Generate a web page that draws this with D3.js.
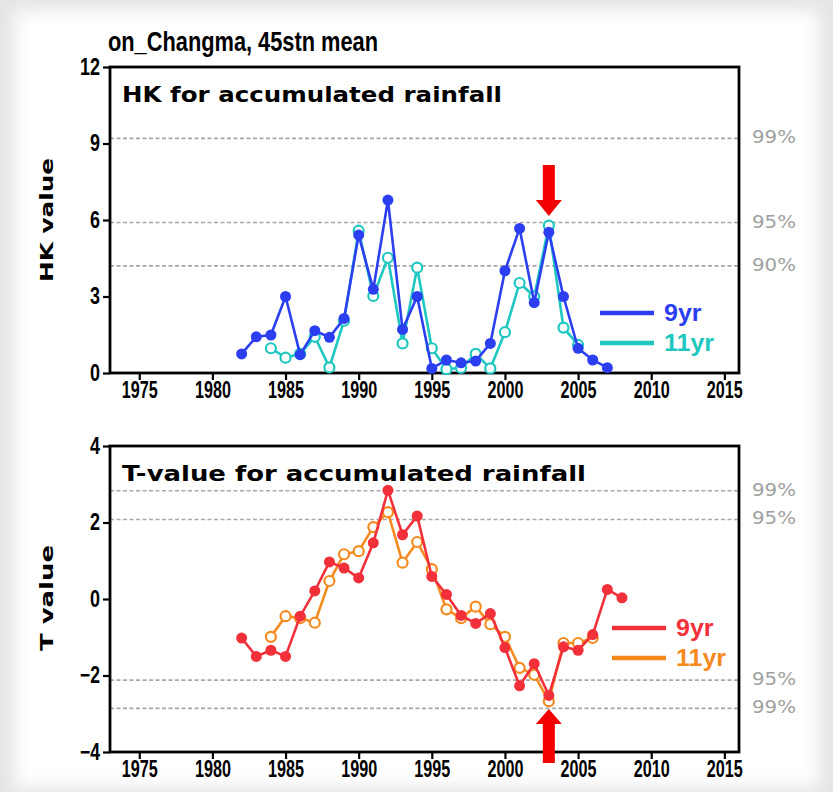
<!DOCTYPE html>
<html>
<head>
<meta charset="utf-8">
<script src="https://cdn.jsdelivr.net/npm/d3@7"></script>
<style>
  body { margin: 0; background: #fff; }
  svg { display: block; }
</style>
</head>
<body>
<script>
// HK statistic, 9yr and 11yr windows
const hkYears9 = [1982,1983,1984,1985,1986,1987,1988,1989,1990,1991,1992,1993,1994,1995,1996,1997,1998,1999,2000,2001,2002,2003,2004,2005,2006,2007];
const hk9 = [0.75,1.42,1.49,3.0,0.72,1.66,1.40,2.14,5.41,3.28,6.78,1.71,3.0,0.18,0.51,0.40,0.47,1.16,4.01,5.67,2.76,5.52,3.0,0.97,0.51,0.21];
const hkYears11 = [1984,1985,1986,1987,1988,1989,1990,1991,1992,1993,1994,1995,1996,1997,1998,1999,2000,2001,2002,2003,2004,2005];
const hk11 = [0.97,0.60,0.75,1.42,0.22,2.05,5.58,3.02,4.52,1.16,4.13,0.97,0.15,0.20,0.75,0.18,1.6,3.53,3.0,5.78,1.78,1.1];

// T-values, 9yr and 11yr windows
const tYears9 = [1982,1983,1984,1985,1986,1987,1988,1989,1990,1991,1992,1993,1994,1995,1996,1997,1998,1999,2000,2001,2002,2003,2004,2005,2006,2007,2008];
const t9 = [-1.02,-1.50,-1.34,-1.50,-0.45,0.21,0.97,0.81,0.55,1.47,2.84,1.68,2.17,0.59,0.12,-0.43,-0.64,-0.38,-1.27,-2.27,-1.69,-2.52,-1.25,-1.34,-0.93,0.25,0.03];
const tYears11 = [1984,1985,1986,1987,1988,1989,1990,1991,1992,1993,1994,1995,1996,1997,1998,1999,2000,2001,2002,2003,2004,2005,2006];
const t11 = [-0.99,-0.45,-0.50,-0.62,0.47,1.17,1.25,1.88,2.27,0.95,1.49,0.78,-0.27,-0.50,-0.20,-0.66,-0.99,-1.80,-1.98,-2.67,-1.15,-1.15,-1.02];

const xTicks = [1975,1980,1985,1990,1995,2000,2005,2010,2015];
const hkTicks = [0,3,6,9,12];
const tTicks = [-4,-2,0,2,4];

// significance levels
const hkLevels = [{v: 9.2, label: "99%"}, {v: 5.9, label: "95%"}, {v: 4.2, label: "90%"}];
const tLevels = [{v: 2.83, label: "99%"}, {v: 2.08, label: "95%"}, {v: -2.12, label: "95%"}, {v: -2.86, label: "99%"}];

const changeYear = 2003;

const width = 833, height = 792;
const svg = d3.select("body").append("svg")
  .attr("width", width)
  .attr("height", height);

// soft grey edge like the original screenshot
const defs = svg.append("defs");
defs.append("filter").attr("id", "blur")
  .attr("x", "-10%").attr("y", "-10%").attr("width", "120%").attr("height", "120%")
  .append("feGaussianBlur").attr("stdDeviation", 9);
svg.append("rect").attr("width", width).attr("height", height).attr("fill", "#e4e4e4");
svg.append("rect").attr("x", 14).attr("y", 10).attr("width", width - 28).attr("height", height - 14)
  .attr("fill", "#fff").attr("filter", "url(#blur)");

const tickFont = "'Liberation Sans', Arial, sans-serif";
const textFont = "'DejaVu Sans', 'Liberation Sans', sans-serif";

const x = d3.scaleLinear().domain([1973, 2016]).range([110, 739]);

svg.append("text")
  .attr("x", 108).attr("y", 51)
  .attr("font-family", tickFont).attr("font-weight", "bold").attr("font-size", 28)
  .attr("textLength", 270).attr("lengthAdjust", "spacingAndGlyphs")
  .text("on_Changma, 45stn mean");

// squeeze bold digits into a narrow look
function narrow(sel, size, perChar) {
  sel.attr("font-family", tickFont).attr("font-weight", "bold").attr("font-size", size)
    .attr("fill", "#000")
    .attr("textLength", function () { return this.textContent.length * perChar; })
    .attr("lengthAdjust", "spacingAndGlyphs");
}

function drawPanel(opt) {
  const y = d3.scaleLinear().domain(opt.domain).range([opt.bottom, opt.top]);
  const g = svg.append("g");

  // dashed significance lines
  g.selectAll("line.lev")
    .data(opt.levels)
    .join("line")
    .attr("x1", x.range()[0]).attr("x2", x.range()[1])
    .attr("y1", d => y(d.v)).attr("y2", d => y(d.v))
    .attr("stroke", "#a8a8a8").attr("stroke-width", 1.6)
    .attr("stroke-dasharray", "4,2.5");

  g.selectAll("text.lev")
    .data(opt.levels)
    .join("text")
    .attr("x", 752).attr("y", d => y(d.v) + 5)
    .attr("fill", "#a0a0a0")
    .attr("font-family", textFont).attr("font-size", 17)
    .attr("textLength", 44).attr("lengthAdjust", "spacingAndGlyphs")
    .text(d => d.label);

  // x axis
  const xAxis = g.append("g")
    .attr("transform", `translate(0,${opt.bottom})`)
    .call(d3.axisBottom(x).tickValues(xTicks).tickFormat(d3.format("d")).tickSize(7).tickPadding(2));
  xAxis.select(".domain").remove();
  xAxis.selectAll(".tick line").attr("stroke", "#000").attr("stroke-width", 2.2);
  narrow(xAxis.selectAll(".tick text"), 23, 9);

  // y axis
  const yAxis = g.append("g")
    .attr("transform", `translate(${x.range()[0]},0)`)
    .call(d3.axisLeft(y).tickValues(opt.ticks).tickSize(7).tickPadding(3));
  yAxis.select(".domain").remove();
  yAxis.selectAll(".tick line").attr("stroke", "#000").attr("stroke-width", 2.2);
  narrow(yAxis.selectAll(".tick text"), 23, 10);

  // frame
  g.append("rect")
    .attr("x", x.range()[0]).attr("y", opt.top)
    .attr("width", x.range()[1] - x.range()[0]).attr("height", opt.bottom - opt.top)
    .attr("fill", "none").attr("stroke", "#000").attr("stroke-width", 2.8);

  // y title
  g.append("text")
    .attr("transform", `translate(53,${opt.ylabelY}) rotate(-90)`)
    .attr("text-anchor", "middle")
    .attr("font-family", textFont).attr("font-weight", "bold").attr("font-size", 18)
    .attr("textLength", opt.ylabelLen).attr("lengthAdjust", "spacingAndGlyphs")
    .text(opt.ylabel);

  // panel title
  g.append("text")
    .attr("x", 122).attr("y", opt.top + 35)
    .attr("font-family", textFont).attr("font-weight", "bold").attr("font-size", 21)
    .attr("textLength", opt.titleLen).attr("lengthAdjust", "spacingAndGlyphs")
    .text(opt.title);

  const line = d3.line().x(d => x(d[0])).y(d => y(d[1]));

  opt.series.forEach(s => {
    const pts = s.years.map((yr, i) => [yr, s.values[i]]);
    g.append("path")
      .datum(pts)
      .attr("d", line)
      .attr("fill", "none").attr("stroke", s.color).attr("stroke-width", 2.6);
    g.append("g")
      .selectAll("circle")
      .data(pts)
      .join("circle")
      .attr("cx", d => x(d[0])).attr("cy", d => y(d[1]))
      .attr("r", s.filled ? 5.5 : 5)
      .attr("fill", s.filled ? s.color : "#fff")
      .attr("stroke", s.color).attr("stroke-width", s.filled ? 0 : 2.2);
  });

  // legend
  opt.series.slice().reverse().forEach((s, i) => {
    const ly = opt.legendY + i * 30;
    g.append("line")
      .attr("x1", opt.legendX).attr("x2", opt.legendX + 54)
      .attr("y1", ly).attr("y2", ly)
      .attr("stroke", s.color).attr("stroke-width", 4.5);
    g.append("text")
      .attr("x", opt.legendX + 64).attr("y", ly + 8)
      .attr("fill", s.color)
      .attr("font-family", tickFont).attr("font-weight", "bold").attr("font-size", 23)
      .attr("textLength", s.name.length * 12.5).attr("lengthAdjust", "spacingAndGlyphs")
      .text(s.name);
  });

  return y;
}

const yHK = drawPanel({
  top: 67, bottom: 373, domain: [0, 12], ticks: hkTicks, levels: hkLevels,
  ylabel: "HK value", ylabelY: 220, ylabelLen: 124,
  title: "HK for accumulated rainfall", titleLen: 380,
  legendX: 600, legendY: 313,
  series: [
    {name: "11yr", years: hkYears11, values: hk11, color: "#1ec8c0", filled: false},
    {name: "9yr", years: hkYears9, values: hk9, color: "#2b3ff0", filled: true}
  ]
});

const yT = drawPanel({
  top: 446, bottom: 752, domain: [-4, 4], ticks: tTicks, levels: tLevels,
  ylabel: "T value", ylabelY: 598, ylabelLen: 106,
  title: "T-value for accumulated rainfall", titleLen: 464,
  legendX: 612, legendY: 628,
  series: [
    {name: "11yr", years: tYears11, values: t11, color: "#f58b1f", filled: false},
    {name: "9yr", years: tYears9, values: t9, color: "#f2303a", filled: true}
  ]
});

// red arrows marking the change year
const ax = x(changeYear);
svg.append("path")
  .attr("d", `M${ax - 6},${165} L${ax + 6},${165} L${ax + 6},${200} L${ax + 13},${200} L${ax},${216} L${ax - 13},${200} L${ax - 6},${200} Z`)
  .attr("fill", "#f30000");
svg.append("path")
  .attr("d", `M${ax - 6},${763} L${ax + 6},${763} L${ax + 6},${724} L${ax + 13},${724} L${ax},${709} L${ax - 13},${724} L${ax - 6},${724} Z`)
  .attr("fill", "#f30000");
</script>
</body>
</html>
